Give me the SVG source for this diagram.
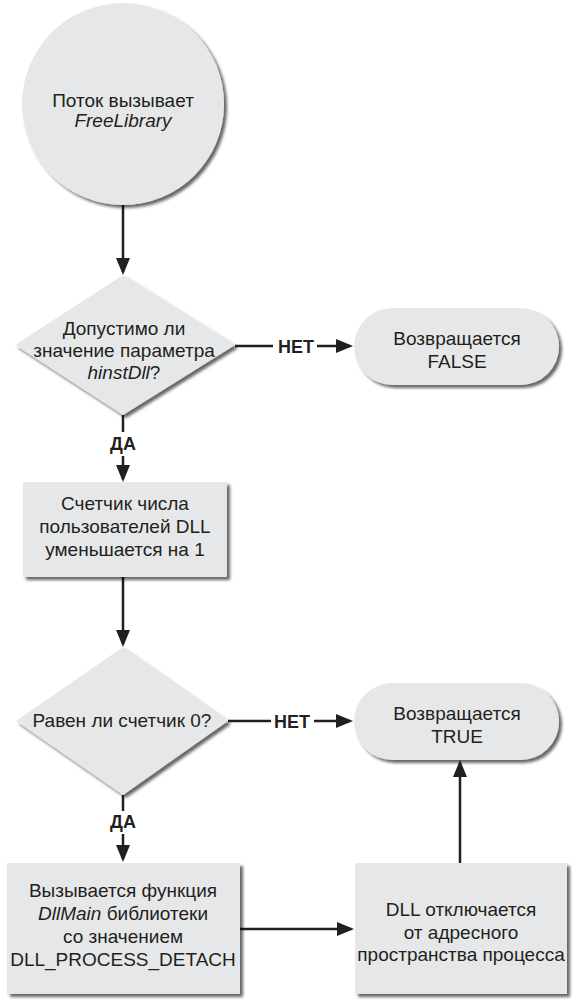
<svg xmlns="http://www.w3.org/2000/svg" width="588" height="1002" viewBox="0 0 588 1002">
<defs>
<style>
.n{fill:#e6e7e8;filter:url(#sh)}
.t{font-family:"Liberation Sans",Arial,Helvetica,sans-serif;font-size:19px;fill:#231f20;text-anchor:middle}
.b{font-weight:bold;font-size:18px}
.i{font-style:italic}
.c{stroke:#231f20;stroke-width:2.5;fill:none}
.a{marker-end:url(#ah)}
</style>
<filter id="sh" x="-10%" y="-10%" width="130%" height="130%">
<feDropShadow dx="3" dy="3" stdDeviation="1.6" flood-color="#000" flood-opacity="0.6"/>
</filter>
<marker id="ah" markerUnits="userSpaceOnUse" markerWidth="17" markerHeight="14" refX="14" refY="7" orient="auto">
<path d="M0,0 L17,7 L0,14 z" fill="#231f20"/>
</marker>
</defs>
<rect width="588" height="1002" fill="#ffffff"/>

<g id="connectors">
<path class="c a" d="M123,205 V272"/>
<path class="c" d="M235,346 H273"/>
<path class="c a" d="M317,346 H350"/>
<path class="c" d="M123,415 V432"/>
<path class="c a" d="M123,456 V479"/>
<path class="c a" d="M123,577 V644"/>
<path class="c" d="M228,721 H271"/>
<path class="c a" d="M314,721 H350"/>
<path class="c" d="M123,795 V811"/>
<path class="c a" d="M123,834 V859"/>
<path class="c a" d="M240,929 H351"/>
<path class="c a" d="M460,863 V763"/>
<text class="t b" x="296" y="353">НЕТ</text>
<text class="t b" x="123" y="450">ДА</text>
<text class="t b" x="292" y="728">НЕТ</text>
<text class="t b" x="123" y="828">ДА</text>
</g>

<g id="start">
<circle class="n" cx="123" cy="104" r="101"/>
<text class="t" x="123" y="107">Поток вызывает</text>
<text class="t i" x="123" y="127">FreeLibrary</text>
</g>

<g id="check-param">
<polygon class="n" points="123,275 235,345 123,415 15,345"/>
<text class="t" x="124" y="335">Допустимо ли</text>
<text class="t" x="124" y="357">значение параметра</text>
<text class="t" x="124" y="379"><tspan class="i">hinstDll</tspan>?</text>
</g>

<g id="return-false">
<rect class="n" x="354" y="308" width="205" height="77" rx="38.5"/>
<text class="t" x="457" y="345">Возвращается</text>
<text class="t" x="457" y="368">FALSE</text>
</g>

<g id="decrement">
<rect class="n" x="23" y="482" width="204" height="95"/>
<text class="t" x="125" y="510">Счетчик числа</text>
<text class="t" x="125" y="533">пользователей DLL</text>
<text class="t" x="125" y="556">уменьшается на 1</text>
</g>

<g id="check-zero">
<polygon class="n" points="123,647 228,721 123,795 16,721"/>
<text class="t" x="122" y="727">Равен ли счетчик 0?</text>
</g>

<g id="return-true">
<rect class="n" x="354" y="683" width="205" height="77" rx="38.5"/>
<text class="t" x="457" y="720">Возвращается</text>
<text class="t" x="457" y="743">TRUE</text>
</g>

<g id="call-dllmain">
<rect class="n" x="7" y="863" width="233" height="131"/>
<text class="t" x="123" y="897">Вызывается функция</text>
<text class="t" x="123" y="920"><tspan class="i">DllMain</tspan> библиотеки</text>
<text class="t" x="123" y="943">со значением</text>
<text class="t" x="123" y="966">DLL_PROCESS_DETACH</text>
</g>

<g id="unmap">
<rect class="n" x="355" y="863" width="212" height="131"/>
<text class="t" x="461" y="916">DLL отключается</text>
<text class="t" x="461" y="939">от адресного</text>
<text class="t" x="461" y="961">пространства процесса</text>
</g>
</svg>
